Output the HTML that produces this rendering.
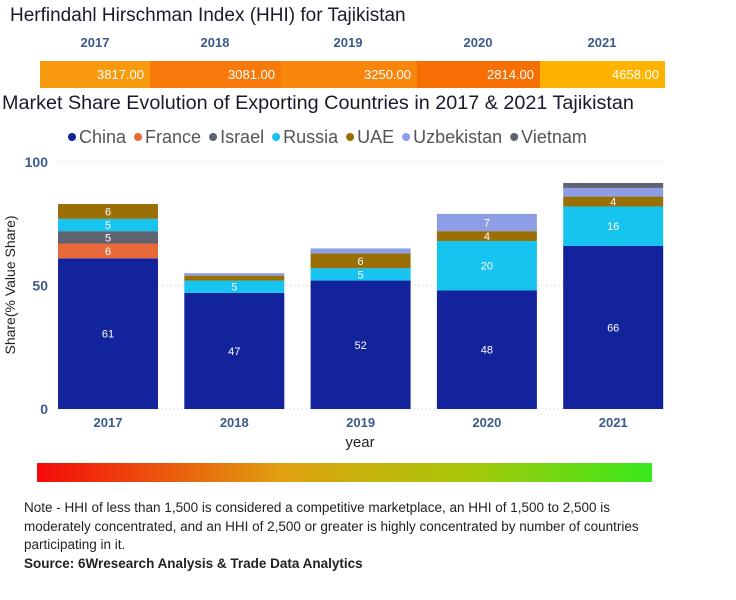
<!DOCTYPE html>
<html><head><meta charset="utf-8"><style>
body{margin:0;width:736px;height:600px;background:#fff;font-family:"Liberation Sans",sans-serif;position:relative;overflow:hidden}
.abs{position:absolute}
</style></head><body>
<div class="abs" style="left:10px;top:5px;font-size:19px;color:#1a1a2a">Herfindahl Hirschman Index (HHI) for Tajikistan</div>
<svg class="abs" style="left:0;top:0" width="736" height="600" id="svg"></svg>
<div class="abs" style="left:2px;top:92px;font-size:19.8px;color:#1a1a2a">Market Share Evolution of Exporting Countries in 2017 &amp; 2021 Tajikistan</div>
<div class="abs" style="left:24px;top:499px;width:620px;font-size:13.5px;line-height:18.5px;color:#222">Note - HHI of less than 1,500 is considered a competitive marketplace, an HHI of 1,500 to 2,500 is moderately concentrated, and an HHI of 2,500 or greater is highly concentrated by number of countries participating in it.<br><b>Source: 6Wresearch Analysis &amp; Trade Data Analytics</b></div>
<script>
const years=["2017","2018","2019","2020","2021"];
const hhi=[3817,3081,3250,2814,4658];
const series=["China","France","Israel","Russia","UAE","Uzbekistan","Vietnam"];
const china=[61,47,52,48,66];
const france=[6,0,0,0,0];
const israel=[5,0,0,0,0];
const russia=[5,5,5,20,16];
const uae=[6,2,6,4,4];
const uzbek=[0,1,2,7,3.5];
const vietnam=[0,0,0,0,2];
const yTicks=[0,50,100];
const colors=["#13239b","#e8693a","#5d6370","#17c3ef","#9a6f06","#8d9ee6","#5d6370"];
const NS="http://www.w3.org/2000/svg",svg=document.getElementById("svg");
function mk(t,a,p){const e=document.createElementNS(NS,t);for(const k in a)e.setAttribute(k,a[k]);(p||svg).appendChild(e);return e}
const segX=[40,150,281,417,540,665],hc=["#f89a0e","#f7790a","#f8860c","#f56f05","#fdb300"];
years.forEach((y,i)=>{
 const r=mk("rect",{x:segX[i],y:61,width:segX[i+1]-segX[i],height:27,fill:hc[i]});
 
 
 const t=mk("text",{x:segX[i+1]-6,y:79,"text-anchor":"end","font-size":13,fill:"#fff"});t.textContent=hhi[i].toFixed(2);
 
 
 const yl=mk("text",{x:[95,215,348,478,602][i],y:47,"text-anchor":"middle","font-size":13,"font-weight":"bold",fill:"#3c5a8c"});yl.textContent=y;
 
 
});
let lx=68;
series.forEach((s,i)=>{
 const g=mk("g",{});
 
 
 mk("circle",{cx:lx+4,cy:137,r:4,fill:colors[i]},g);
 const t=mk("text",{x:lx+11,y:143,"font-size":18,fill:"#555"},g);t.textContent=s;
 lx+=11+t.getComputedTextLength()+8;
});
const y0=409,y1=162,yS=v=>y0-(y0-y1)*v/100,cx=i=>108+126.3*i,bw=100;
yTicks.forEach(v=>{
 mk("line",{x1:58,x2:664,y1:yS(v),y2:yS(v),stroke:"#ccc","stroke-dasharray":"1 3"});
 const t=mk("text",{x:48,y:yS(v)+5,"text-anchor":"end","font-size":14,"font-weight":"bold",fill:"#3c5a8c"});t.textContent=v;
 
 
});
const yt=mk("text",{transform:"translate(15,285) rotate(-90)","text-anchor":"middle","font-size":14,fill:"#222"});yt.textContent="Share(% Value Share)";


const xt=mk("text",{x:360,y:447,"text-anchor":"middle","font-size":15,fill:"#222"});xt.textContent="year";


const data=[china,france,israel,russia,uae,uzbek,vietnam];
years.forEach((y,i)=>{
 let acc=0;
 data.forEach((arr,s)=>{
  const v=arr[i];if(!v)return;
  const r=mk("rect",{x:cx(i)-bw/2,y:yS(acc+v),width:bw,height:yS(acc)-yS(acc+v),fill:colors[s]});
  
  
  if(v>=4){const t=mk("text",{x:cx(i),y:(yS(acc)+yS(acc+v))/2+4,"text-anchor":"middle","font-size":11,fill:"#fff"});t.textContent=v;
   
   }
  acc+=v;
 });
 const t=mk("text",{x:cx(i),y:427,"text-anchor":"middle","font-size":13,"font-weight":"bold",fill:"#3c5a8c"});t.textContent=y;
 
 
});
const d=mk("defs",{});const lg=mk("linearGradient",{id:"g"},d);
[["0","#f50a0a"],["0.4","#e0a010"],["0.7","#a8c80a"],["1","#38e81c"]].forEach(s=>mk("stop",{offset:s[0],"stop-color":s[1]},lg));
const gb=mk("rect",{x:37,y:463,width:615,height:19,fill:"url(#g)"});


</script>
</body></html>
